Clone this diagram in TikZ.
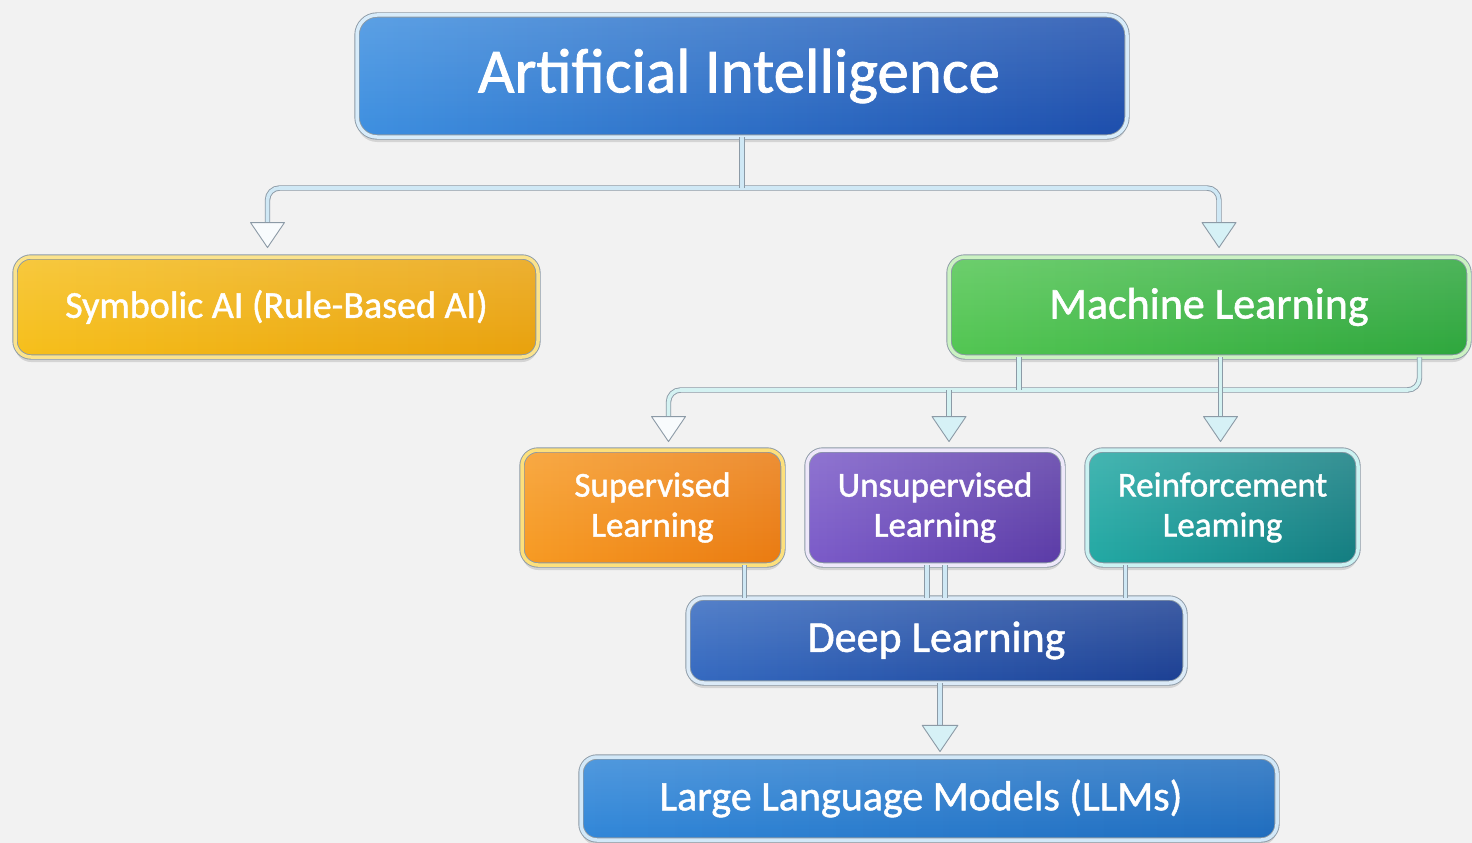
\documentclass[tikz,border=0pt]{standalone}
\usepackage{fontspec}
\setmainfont{Carlito}[FakeBold=1.2]
\usetikzlibrary{shadows,calc,fadings}

% palette
\definecolor{bg}{HTML}{F2F2F2}
\definecolor{edge}{HTML}{8C9AA6}
\definecolor{aiL}{HTML}{3D8FE0}\definecolor{aiR}{HTML}{1C4DAC}\definecolor{aiB}{HTML}{D8ECFA}
\definecolor{syL}{HTML}{F6BF1A}\definecolor{syR}{HTML}{E9A10C}\definecolor{syB}{HTML}{FBE38C}
\definecolor{mlL}{HTML}{52C652}\definecolor{mlR}{HTML}{2DA63C}\definecolor{mlB}{HTML}{CBF2C2}
\definecolor{suL}{HTML}{F79A22}\definecolor{suR}{HTML}{EA7A10}\definecolor{suB}{HTML}{FDE07C}
\definecolor{unL}{HTML}{7B5BC9}\definecolor{unR}{HTML}{5A3AA6}\definecolor{unB}{HTML}{EEE8FA}
\definecolor{reL}{HTML}{22A9A4}\definecolor{reR}{HTML}{127C80}\definecolor{reB}{HTML}{CBF2F2}
\definecolor{dlL}{HTML}{3469C0}\definecolor{dlR}{HTML}{1B3F93}\definecolor{dlB}{HTML}{DBEAF7}
\definecolor{llL}{HTML}{3086D8}\definecolor{llR}{HTML}{1E6CBE}\definecolor{llB}{HTML}{D2E8F8}
\definecolor{pipeA}{HTML}{CFE8F5}
\definecolor{pipeB}{HTML}{D4F2F2}
\definecolor{tipA}{HTML}{F8FBFD}
\definecolor{tipB}{HTML}{D6F1F6}

\tikzset{
  box/.style n args={3}{
    rounded corners=16pt, left color=#1, right color=#2,
    draw=edge, double=#3, double distance=3.5pt, line width=0.9pt,
    drop shadow={shadow xshift=0pt, shadow yshift=-5pt, opacity=0.12, fill=black},
    path picture={\fill[white, opacity=0.16, path fading=south]
      (path picture bounding box.south west) rectangle (path picture bounding box.north east);},
    text=white, align=center, inner sep=0pt},
  bigtext/.style={font=\fontsize{#1}{#1}\selectfont},
  twoline/.style={font=\fontsize{35}{40}\selectfont},
  pipe/.style={draw=edge, double=#1, double distance=3.6pt, line width=0.9pt,
    rounded corners=12pt},
  headtip/.pic={\path[draw=edge, line width=0.9pt, line join=round, pic actions]
    (-17pt,25pt) -- (17pt,25pt) -- (0pt,0pt) -- cycle;}
}

\begin{document}
\begin{tikzpicture}[x=1pt, y=-1pt]
  \fill[bg] (0,0) rectangle (1472,843);
  \useasboundingbox (0,0) rectangle (1472,843);

  % boxes
  \node[box={aiL}{aiR}{aiB}, rounded corners=20pt, minimum width=770pt, minimum height=122pt, bigtext=63]
    (ai) at (742,76) {Artificial Intelligence\hspace*{6pt}};
  \node[box={syL}{syR}{syB}, minimum width=523pt, minimum height=100pt, bigtext=38]
    (sym) at (276.5,307) {Symbolic AI (Rule-Based AI)};
  \node[box={mlL}{mlR}{mlB}, minimum width=520pt, minimum height=100pt, bigtext=44]
    (ml) at (1209,307) {Machine Learning};
  \node[box={suL}{suR}{suB}, minimum width=261pt, minimum height=115pt, twoline]
    (sup) at (652.5,507.5) {Supervised\\Learning};
  \node[box={unL}{unR}{unB}, minimum width=256pt, minimum height=115pt, twoline]
    (uns) at (935,507.5) {Unsupervised\\Learning};
  \node[box={reL}{reR}{reB}, minimum width=271pt, minimum height=115pt, twoline]
    (rei) at (1222.5,507.5) {Reinforcement\\Leaming};
  \node[box={dlL}{dlR}{dlB}, minimum width=497pt, minimum height=85pt, bigtext=44]
    (dl) at (936.5,640.5) {Deep Learning};
  \node[box={llL}{llR}{llB}, minimum width=696pt, minimum height=83pt, bigtext=42]
    (llm) at (929,798.5) {Large Language Models (LLMs)\hspace*{16pt}};

  % arrow tips and bus lines
  \coordinate (bus1) at (0,188);
  \coordinate (bus2) at (0,390);
  \coordinate (tsym) at ([xshift=-9pt,yshift=9pt]sym.north);
  \coordinate (tml)  at ([xshift=10pt,yshift=9pt]ml.north);
  \coordinate (tsup) at ([xshift=16pt,yshift=8pt]sup.north);
  \coordinate (tuns) at ([xshift=14pt,yshift=8pt]uns.north);
  \coordinate (trei) at ([xshift=-2pt,yshift=8pt]rei.north);
  \coordinate (tllm) at ([xshift=11pt,yshift=5pt]llm.north);
  \coordinate (mlr)  at ([xshift=-50pt]ml.south east);
  \coordinate (mll)  at ([xshift=-190pt]ml.south);

  % Artificial Intelligence -> Symbolic AI / Machine Learning
  \draw[pipe=pipeA] ([yshift=22pt]tsym) -- (tsym |- bus1) -- (tml |- bus1) -- ([yshift=22pt]tml);
  \draw[pipe=pipeA] (ai.south) -- (ai.south |- bus1);

  % Machine Learning -> three learning paradigms
  \draw[pipe=pipeB] ([yshift=22pt]tsup) -- (tsup |- bus2) -- (mlr |- bus2) -- (mlr);
  \draw[pipe=pipeB] (mll) -- (mll |- bus2);
  \draw[pipe=pipeB] (tuns |- bus2) -- ([yshift=22pt]tuns);
  \draw[pipe=pipeB] (trei |- ml.south) -- ([yshift=22pt]trei);

  % paradigms -> Deep Learning
  \draw[pipe=pipeA] ([xshift=92pt]sup.south) -- ([xshift=92pt]sup.south |- dl.north);
  \draw[pipe=pipeA] ([xshift=-8pt]uns.south) -- ([xshift=-8pt]uns.south |- dl.north);
  \draw[pipe=pipeA] ([xshift=10pt]uns.south) -- ([xshift=10pt]uns.south |- dl.north);
  \draw[pipe=pipeA] ([xshift=-97pt]rei.south) -- ([xshift=-97pt]rei.south |- dl.north);

  % Deep Learning -> LLMs
  \draw[pipe=pipeA] (dl.south -| tllm) -- ([yshift=24pt]tllm);

  % arrowheads
  \pic[fill=tipA] at (tsym) {headtip};
  \pic[fill=tipB] at (tml) {headtip};
  \pic[fill=tipA] at (tsup) {headtip};
  \pic[fill=tipB] at (tuns) {headtip};
  \pic[fill=tipB] at (trei) {headtip};
  \pic[fill=tipB, scale=1.05] at (tllm) {headtip};
\end{tikzpicture}
\end{document}
